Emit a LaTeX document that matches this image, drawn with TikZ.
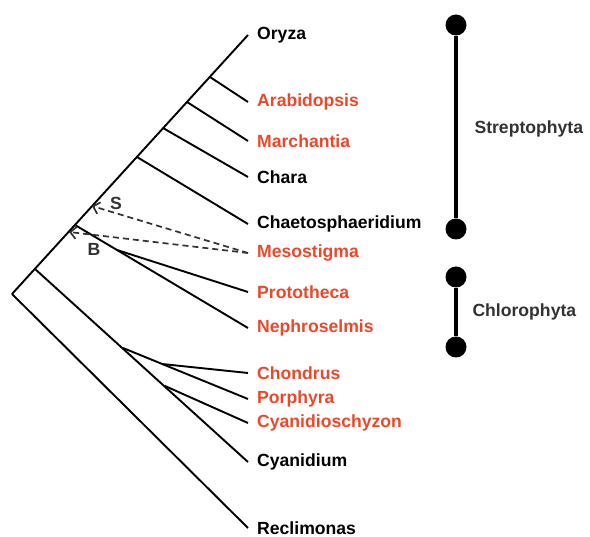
\documentclass[tikz,border=0pt]{standalone}
\usepackage{fontspec}
\setmainfont{Liberation Sans}
\usepackage{xcolor}
\usepackage{tikz}
\usetikzlibrary{arrows.meta}
\definecolor{taxred}{RGB}{240,70,40}
\definecolor{cladegray}{RGB}{50,50,50}
\tikzstyle{taxon}    = [anchor=west, inner xsep=9pt, inner ysep=0pt,
                        font=\fontsize{17.6}{19}\selectfont\bfseries]
\tikzstyle{redtaxon} = [taxon, text=taxred]
\tikzstyle{branch}   = [line width=1.9pt, black]
\tikzstyle{transfer} = [cladegray, dashed, dash pattern=on 6pt off 4pt, line width=1.7pt,
                        -{Straight Barb[length=6pt,width=12pt,line width=1.7pt]}]
\tikzstyle{dot}      = [circle, fill=black, inner sep=0pt, minimum size=21pt]
\tikzstyle{cladebar} = [line width=3.4pt]
\tikzstyle{cladelab} = [anchor=west, text=cladegray, font=\fontsize{17.6}{19}\selectfont\bfseries]

\begin{document}
\begin{tikzpicture}[x=1pt, y=-1pt]
  \useasboundingbox (0,0) rectangle (590,537);

  % taxa
  \node[taxon]    (ory)  at (248,35)  {Oryza};
  \node[redtaxon] (arab) at (248,102) {Arabidopsis};
  \node[redtaxon] (mar)  at (248,141) {Marchantia};
  \node[taxon]    (cha)  at (248,177) {Chara};
  \node[taxon]    (chae) at (248,224) {Chaetosphaeridium};
  \node[redtaxon] (meso) at (248,253) {Mesostigma};
  \node[redtaxon] (prot) at (248,292) {Prototheca};
  \node[redtaxon] (neph) at (248,328) {Nephroselmis};
  \node[redtaxon] (chon) at (248,373) {Chondrus};
  \node[redtaxon] (por)  at (248,399) {Porphyra};
  \node[redtaxon] (cyz)  at (248,423) {Cyanidioschyzon};
  \node[taxon]    (cya)  at (248,462) {Cyanidium};
  \node[taxon]    (rec)  at (248,528) {Reclimonas};

  % internal nodes
  \coordinate (root)  at (12,294);
  \coordinate (plast) at (35,269);
  \coordinate (bpt)   at (69,232);
  \coordinate (green) at (75,225);
  \coordinate (spt)   at (92,206);
  \coordinate (nchae) at (137,157);
  \coordinate (ncha)  at (163,128);
  \coordinate (nmar)  at (187,102);
  \coordinate (narab) at (210,77);
  \coordinate (nchl)  at (117,250);
  \coordinate (nrho)  at (123,348);
  \coordinate (nchon) at (162,364);
  \coordinate (ncyz)  at (165,386);

  % tree
  \draw[branch] (root) -- (ory.west);
  \draw[branch] (root) -- (rec.west);
  \draw[branch] (narab) -- (arab.west);
  \draw[branch] (nmar) -- (mar.west);
  \draw[branch] (ncha) -- (cha.west);
  \draw[branch] (nchae) -- (chae.west);
  \draw[branch] (green) -- (neph.west);
  \draw[branch] (nchl) -- (prot.west);
  \draw[branch] (plast) -- (cya.west);
  \draw[branch] (nrho) -- (por.west);
  \draw[branch] (nchon) -- (chon.west);
  \draw[branch] (ncyz) -- (cyz.west);

  % Mesostigma positions
  \draw[transfer] (meso.west) -- (spt);
  \draw[transfer] (meso.west) -- (bpt);
  \node[text=cladegray, font=\fontsize{17.6}{19}\selectfont\bfseries] (slab) at (116,203) {S};
  \node[text=cladegray, font=\fontsize{17.6}{19}\selectfont\bfseries] (blab) at (94,249) {B};

  % clades
  \node[dot] (st1) at (456,25)  {};
  \node[dot] (st2) at (456,229) {};
  \node[dot] (ch1) at (456,277) {};
  \node[dot] (ch2) at (456,347) {};
  \draw[cladebar] (st1) -- (st2);
  \draw[cladebar] (ch1) -- (ch2);
  \node[cladelab] (strep) at (471,129) {Streptophyta};
  \node[cladelab] (chlor) at (469,312) {Chlorophyta};
\end{tikzpicture}
\end{document}
